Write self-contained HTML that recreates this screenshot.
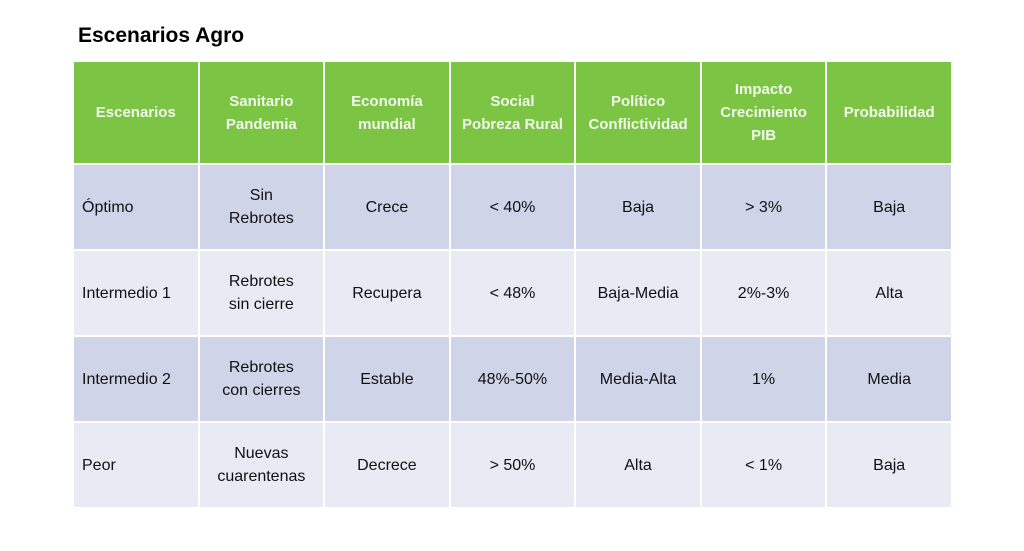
<!DOCTYPE html>
<html><head><meta charset="utf-8"><style>
body{margin:0;width:1024px;height:551px;background:#fff;font-family:"Liberation Sans",sans-serif;position:relative;overflow:hidden}
h1{position:absolute;left:78px;top:24px;margin:0;font-size:21px;font-weight:bold;color:#000}
table{position:absolute;left:72px;top:60px;border-collapse:collapse;width:881px;table-layout:fixed}
td,th{border:2px solid #fff;text-align:center;font-size:16px;color:#111;padding:0 4px;line-height:23px}
th{background:#7cc443;color:#f2f8ec;font-size:15px;font-weight:bold;height:101px}
tr.a td{background:#cfd4e9;height:84px}
tr.b td{background:#e8eaf4;height:84px}
td.l{text-align:left;padding-left:8px}
</style></head><body>
<h1>Escenarios Agro</h1>
<table>
<tr><th>Escenarios</th><th>Sanitario<br>Pandemia</th><th>Economía<br>mundial</th><th>Social<br>Pobreza Rural</th><th>Político<br>Conflictividad</th><th>Impacto<br>Crecimiento<br>PIB</th><th>Probabilidad</th></tr>
<tr class="a"><td class="l">Óptimo</td><td>Sin<br>Rebrotes</td><td>Crece</td><td>&lt; 40%</td><td>Baja</td><td>&gt; 3%</td><td>Baja</td></tr>
<tr class="b"><td class="l">Intermedio 1</td><td>Rebrotes<br>sin cierre</td><td>Recupera</td><td>&lt; 48%</td><td>Baja-Media</td><td>2%-3%</td><td>Alta</td></tr>
<tr class="a"><td class="l">Intermedio 2</td><td>Rebrotes<br>con cierres</td><td>Estable</td><td>48%-50%</td><td>Media-Alta</td><td>1%</td><td>Media</td></tr>
<tr class="b"><td class="l">Peor</td><td>Nuevas<br>cuarentenas</td><td>Decrece</td><td>&gt; 50%</td><td>Alta</td><td>&lt; 1%</td><td>Baja</td></tr>
</table>
</body></html>
